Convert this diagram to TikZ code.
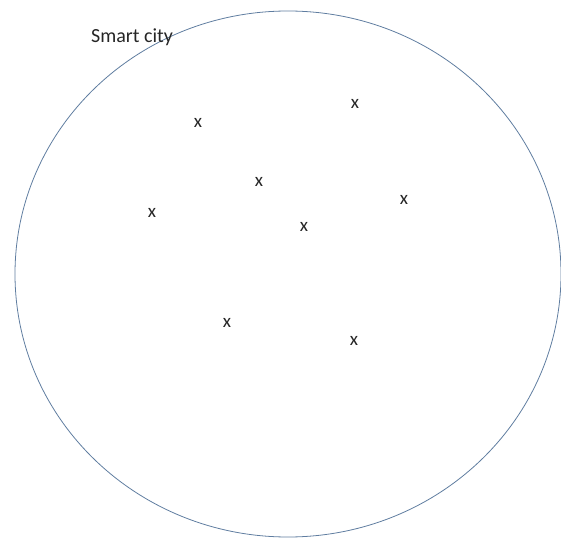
\documentclass[tikz,border=0pt]{standalone}
\usepackage{fontspec}
\setmainfont{Carlito}
\definecolor{ringcol}{RGB}{95,125,160}
\tikzset{
  pt/.style={inner sep=0pt, font=\fontsize{19}{22}\selectfont, text=black!85},
  lbl/.style={inner sep=0pt, anchor=base west, font=\fontsize{20}{24}\selectfont, text=black!85},
  ring/.style={draw=ringcol, line width=0.8pt}
}
\begin{document}
\begin{tikzpicture}[x=1pt,y=-1pt]
\useasboundingbox (0,0) rectangle (561,537);
\draw[ring] (288,274) ellipse [x radius=273, y radius=263];
\node[lbl] (title) at (91,43) {Smart city};
\node[pt] (p1) at (198,123) {x};
\node[pt] (p2) at (355,104) {x};
\node[pt] (p3) at (259,182) {x};
\node[pt] (p4) at (152,213) {x};
\node[pt] (p5) at (404,200) {x};
\node[pt] (p6) at (304,227) {x};
\node[pt] (p7) at (227,323) {x};
\node[pt] (p8) at (354,341) {x};
\end{tikzpicture}
\end{document}
